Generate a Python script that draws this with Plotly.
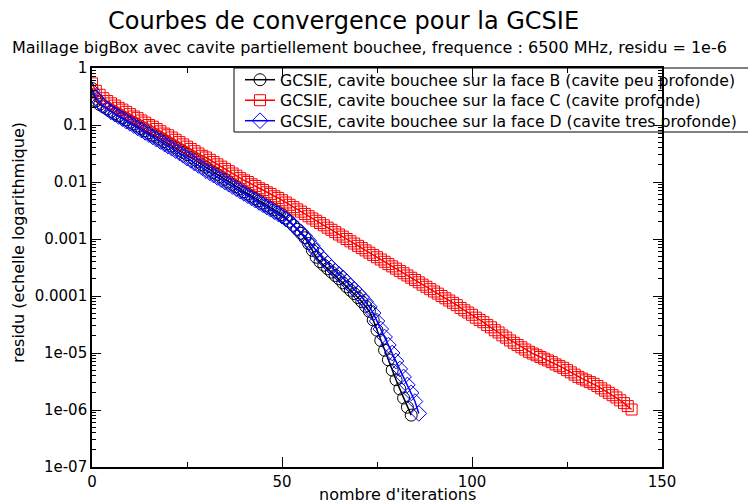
import plotly.graph_objects as go

# ---------------- data ----------------
iter_B = list(range(0, 85))
residu_B = [
    4.37e-1, 2.63e-1, 2.29e-1, 2.09e-1, 1.91e-1, 1.74e-1, 1.58e-1, 1.45e-1, 1.35e-1, 1.23e-1,
    1.12e-1, 1.05e-1, 9.55e-2, 8.71e-2, 7.94e-2, 7.24e-2, 6.61e-2, 6.17e-2, 5.62e-2, 5.13e-2,
    4.68e-2, 4.27e-2, 3.98e-2, 3.63e-2, 3.31e-2, 3.02e-2, 2.69e-2, 2.45e-2, 2.24e-2, 2.00e-2,
    1.82e-2, 1.62e-2, 1.48e-2, 1.35e-2, 1.23e-2, 1.12e-2, 1.00e-2, 9.12e-3, 8.32e-3, 7.59e-3,
    6.76e-3, 6.17e-3, 5.62e-3, 5.13e-3, 4.68e-3, 4.27e-3, 3.89e-3, 3.55e-3, 3.24e-3, 2.95e-3,
    2.69e-3, 2.34e-3, 2.04e-3, 1.74e-3, 1.48e-3, 1.26e-3, 1.05e-3, 8.32e-4, 6.31e-4, 4.79e-4,
    3.98e-4, 3.47e-4, 3.02e-4, 2.63e-4, 2.29e-4, 2.00e-4, 1.70e-4, 1.45e-4, 1.26e-4, 1.10e-4,
    9.33e-5, 7.94e-5, 6.61e-5, 5.37e-5, 3.80e-5, 2.51e-5, 1.66e-5, 1.12e-5, 7.59e-6, 5.01e-6,
    3.39e-6, 2.34e-6, 1.62e-6, 1.12e-6, 8.13e-7,
]

iter_C = list(range(0, 143))
residu_C = [
    5.37e-1, 3.98e-1, 3.39e-1, 2.95e-1, 2.63e-1, 2.40e-1, 2.19e-1, 2.00e-1, 1.86e-1, 1.70e-1,
    1.55e-1, 1.41e-1, 1.32e-1, 1.20e-1, 1.10e-1, 1.00e-1, 9.33e-2, 8.51e-2, 7.76e-2, 7.08e-2,
    6.61e-2, 6.03e-2, 5.50e-2, 5.01e-2, 4.57e-2, 4.17e-2, 3.80e-2, 3.47e-2, 3.16e-2, 2.88e-2,
    2.69e-2, 2.45e-2, 2.24e-2, 2.04e-2, 1.86e-2, 1.70e-2, 1.55e-2, 1.41e-2, 1.29e-2, 1.17e-2,
    1.07e-2, 1.00e-2, 9.12e-3, 8.51e-3, 7.76e-3, 7.24e-3, 6.61e-3, 6.17e-3, 5.62e-3, 5.25e-3,
    4.79e-3, 4.37e-3, 3.98e-3, 3.63e-3, 3.31e-3, 3.02e-3, 2.75e-3, 2.51e-3, 2.29e-3, 2.09e-3,
    1.91e-3, 1.74e-3, 1.58e-3, 1.45e-3, 1.32e-3, 1.20e-3, 1.10e-3, 1.00e-3, 9.12e-4, 8.32e-4,
    7.59e-4, 6.92e-4, 6.31e-4, 5.75e-4, 5.25e-4, 4.79e-4, 4.37e-4, 3.98e-4, 3.63e-4, 3.31e-4,
    3.02e-4, 2.75e-4, 2.51e-4, 2.29e-4, 2.09e-4, 1.91e-4, 1.74e-4, 1.58e-4, 1.45e-4, 1.32e-4,
    1.20e-4, 1.10e-4, 1.00e-4, 9.12e-5, 8.32e-5, 7.59e-5, 6.92e-5, 6.17e-5, 5.62e-5, 5.13e-5,
    4.68e-5, 4.17e-5, 3.80e-5, 3.47e-5, 3.09e-5, 2.82e-5, 2.51e-5, 2.29e-5, 2.04e-5, 1.86e-5,
    1.66e-5, 1.51e-5, 1.38e-5, 1.26e-5, 1.15e-5, 1.05e-5, 9.77e-6, 9.12e-6, 8.51e-6, 7.94e-6,
    7.41e-6, 6.92e-6, 6.31e-6, 5.89e-6, 5.50e-6, 5.01e-6, 4.57e-6, 4.17e-6, 3.80e-6, 3.55e-6,
    3.31e-6, 3.09e-6, 2.88e-6, 2.63e-6, 2.40e-6, 2.19e-6, 2.00e-6, 1.82e-6, 1.66e-6, 1.48e-6,
    1.32e-6, 1.17e-6, 1.02e-6,
]

iter_D = list(range(0, 87))
residu_D = [
    3.98e-1, 3.02e-1, 2.51e-1, 2.14e-1, 1.91e-1, 1.70e-1, 1.55e-1, 1.41e-1, 1.29e-1, 1.17e-1,
    1.07e-1, 9.77e-2, 8.91e-2, 8.13e-2, 7.41e-2, 6.76e-2, 6.17e-2, 5.62e-2, 5.13e-2, 4.68e-2,
    4.27e-2, 3.89e-2, 3.55e-2, 3.24e-2, 2.95e-2, 2.63e-2, 2.40e-2, 2.14e-2, 1.95e-2, 1.78e-2,
    1.58e-2, 1.45e-2, 1.32e-2, 1.20e-2, 1.10e-2, 1.00e-2, 9.12e-3, 8.32e-3, 7.59e-3, 6.92e-3,
    6.31e-3, 5.75e-3, 5.25e-3, 4.79e-3, 4.37e-3, 3.98e-3, 3.63e-3, 3.31e-3, 3.02e-3, 2.75e-3,
    2.51e-3, 2.24e-3, 2.00e-3, 1.74e-3, 1.51e-3, 1.32e-3, 1.12e-3, 9.33e-4, 7.59e-4, 6.17e-4,
    5.13e-4, 4.37e-4, 3.72e-4, 3.16e-4, 2.75e-4, 2.40e-4, 2.09e-4, 1.78e-4, 1.51e-4, 1.32e-4,
    1.12e-4, 9.55e-5, 7.94e-5, 6.46e-5, 5.01e-5, 3.63e-5, 2.63e-5, 1.91e-5, 1.38e-5, 1.00e-5,
    7.24e-6, 5.25e-6, 3.80e-6, 2.75e-6, 2.00e-6, 1.41e-6, 8.71e-7,
]

series_names = [
    "GCSIE, cavite bouchee sur la face B (cavite peu profonde)",
    "GCSIE, cavite bouchee sur la face C (cavite profonde)",
    "GCSIE, cavite bouchee sur la face D (cavite tres profonde)",
]

x_tick_vals = [0, 50, 100, 150]
x_tick_text = ["0", "50", "100", "150"]
y_tick_vals = [1e-7, 1e-6, 1e-5, 1e-4, 1e-3, 1e-2, 1e-1, 1]
y_tick_text = ["1e-07", "1e-06", "1e-05", "0.0001", "0.001", "0.01", "0.1", "1"]

title_text = "Courbes de convergence pour la GCSIE"
subtitle_text = "Maillage bigBox avec cavite partiellement bouchee, frequence : 6500 MHz, residu = 1e-6"
x_title = "nombre d'iterations"
y_title = "residu (echelle logarithmique)"

# ---------------- figure ----------------
FONT = "DejaVu Sans"
W, H = 748, 504
ML, MR, MT, MB = 92, 86, 68, 37
PW, PH = W - ML - MR, H - MT - MB


def px_x(p):
    return (p - ML) / PW


def px_y(p):
    return (H - MB - p) / PH


styles = [
    dict(color="#000000", symbol="circle-open", size=12),
    dict(color="#ff0000", symbol="square-open", size=11),
    dict(color="#0000ff", symbol="diamond-open", size=12),
]
legend_ids = ["legend", "legend2", "legend3"]
legend_rows_px = [80, 100.5, 121]

fig = go.Figure()
for xs, ys, name, st, lg in zip(
    [iter_B, iter_C, iter_D], [residu_B, residu_C, residu_D], series_names, styles, legend_ids
):
    fig.add_trace(
        go.Scatter(
            x=xs,
            y=ys,
            name=name,
            legend=lg,
            mode="lines+markers",
            line=dict(color=st["color"], width=1.5),
            marker=dict(
                symbol=st["symbol"],
                size=st["size"],
                color=st["color"],
                line=dict(color=st["color"], width=1),
            ),
        )
    )

minor_y = [k * 10.0 ** e for e in range(-7, 0) for k in range(2, 10)]

legend_common = dict(
    xanchor="left",
    yanchor="middle",
    bgcolor="rgba(0,0,0,0)",
    borderwidth=0,
    font=dict(family=FONT, size=15.7, color="black"),
)
legend_layout = {
    lg: dict(x=px_x(240), y=px_y(row), **legend_common)
    for lg, row in zip(legend_ids, legend_rows_px)
}

fig.update_layout(
    width=W,
    height=H,
    margin=dict(l=ML, r=MR, t=MT, b=MB, autoexpand=False),
    paper_bgcolor="white",
    plot_bgcolor="white",
    font=dict(family=FONT, color="black", size=15),
    showlegend=True,
    **legend_layout,
    xaxis=dict(
        range=[0, 150],
        tickmode="array",
        tickvals=x_tick_vals,
        ticktext=x_tick_text,
        ticks="inside",
        ticklen=10,
        tickwidth=1,
        tickcolor="black",
        showline=True,
        linecolor="black",
        linewidth=1.6,
        mirror="ticks",
        showgrid=False,
        zeroline=False,
        tickfont=dict(family=FONT, size=15),
        minor=dict(
            tickmode="array",
            tickvals=[25, 75, 125],
            ticks="inside",
            ticklen=5,
            tickcolor="black",
            showgrid=False,
        ),
    ),
    yaxis=dict(
        type="log",
        range=[-7, 0],
        tickmode="array",
        tickvals=y_tick_vals,
        ticktext=y_tick_text,
        ticks="inside",
        ticklen=9,
        tickwidth=1,
        tickcolor="black",
        showline=True,
        linecolor="black",
        linewidth=1.6,
        mirror="ticks",
        showgrid=False,
        zeroline=False,
        tickfont=dict(family=FONT, size=15),
        minor=dict(
            tickmode="array",
            tickvals=minor_y,
            ticks="inside",
            ticklen=4,
            tickcolor="black",
            showgrid=False,
        ),
    ),
    shapes=[
        dict(type="rect", xref="paper", yref="paper",
             x0=px_x(234), x1=px_x(770), y0=px_y(132), y1=px_y(68),
             line=dict(color="black", width=1), fillcolor="rgba(0,0,0,0)", layer="above"),
    ],
    annotations=[
        dict(text=title_text, xref="paper", yref="paper", x=px_x(343), y=px_y(21),
             showarrow=False, xanchor="center", yanchor="middle",
             font=dict(family=FONT, size=24, color="black")),
        dict(text=subtitle_text, xref="paper", yref="paper", x=px_x(369), y=px_y(47),
             showarrow=False, xanchor="center", yanchor="middle",
             font=dict(family=FONT, size=16, color="black")),
        dict(text=x_title, xref="paper", yref="paper", x=px_x(397), y=px_y(494),
             showarrow=False, xanchor="center", yanchor="middle",
             font=dict(family=FONT, size=16, color="black")),
        dict(text=y_title, xref="paper", yref="paper", x=px_x(18), y=px_y(243),
             showarrow=False, xanchor="center", yanchor="middle", textangle=-90,
             font=dict(family=FONT, size=16, color="black")),
    ],
)

fig.write_html(
    "out.html",
    config={"displayModeBar": False},
    post_script="document.body.style.margin='0px';",
)
